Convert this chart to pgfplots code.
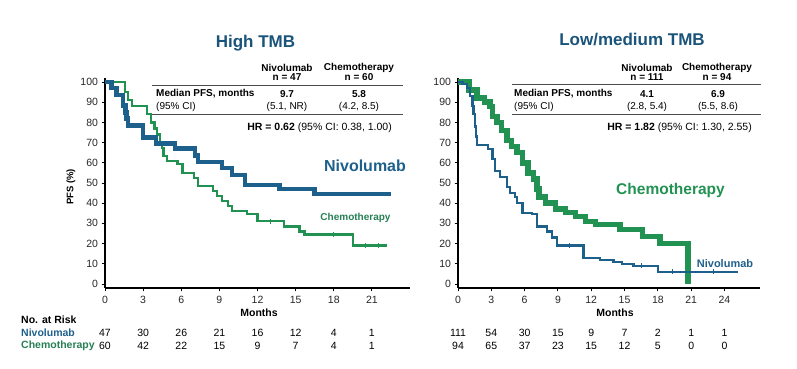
\documentclass[border=0pt]{standalone}
\usepackage{fontspec}
\setmainfont{Liberation Sans}
\usepackage{pgfplots}
\pgfplotsset{compat=1.18}
\definecolor{nivo}{RGB}{30,96,140}
\definecolor{chemo}{RGB}{34,146,82}
\definecolor{titleblue}{RGB}{26,84,122}
\definecolor{chemolab}{RGB}{38,128,84}
\newcommand{\fs}[1]{\fontsize{#1}{#1}\selectfont}
\pgfplotsset{km/.style={
  scale only axis, height=210pt, ymin=-2, ymax=102, xmin=0,
  axis x line*=bottom, axis y line*=left,
  axis line style={line width=1.5pt, black},
  ytick={0,10,...,100},
  tick align=outside, major tick length=3.5pt,
  tick style={line width=0.9pt, black},
  tick label style={font=\fs{10.5}, text=black!85},
  /pgf/number format/assume math mode=true,
  xticklabel style={yshift=-1pt},
  clip=false,
}}
\begin{document}
\begin{tikzpicture}[x=1pt,y=1pt]
\path[use as bounding box] (0,0) rectangle (797,369);
% ---------------- Left: High TMB ----------------
\begin{axis}[km, at={(105pt,81pt)}, anchor=south west, width=305pt,
  xmax=24, xtick={0,3,...,21}]
\addplot[const plot, chemo, line width=2.2pt] coordinates {
(0,100) (1.6,95) (1.8,91) (2.1,88) (3.3,84) (3.6,80) (3.9,77) (4.1,74)
(4.3,70) (4.5,67.5) (4.6,63.5) (4.9,61) (5.7,59.5) (6.1,55) (7.0,52.5)
(7.3,48.5) (8.5,46) (8.8,43.5) (9.2,41) (9.7,38.5) (10.0,36) (11.2,34.5)
(12.0,31) (14.1,28.5) (15.3,26) (15.7,24.5) (19.5,19) (22.2,19)};
\addplot[const plot, nivo, line width=4.5pt] coordinates {
(0,100) (0.5,97) (0.9,93.5) (1.4,88.5) (1.6,85) (1.7,82) (1.8,78.5)
(3.0,72.5) (4.0,69.5) (5.5,67) (7.1,63.5) (7.3,60.5) (9.2,57.5) (10.0,54)
(11.0,49) (13.75,47) (16.5,44.5) (22.5,44.5)};
\addplot[only marks, mark=|, mark size=2.5pt, chemo, line width=0.8pt] coordinates {
(13.0,31) (18.0,24.5) (20.5,19) (21.5,19)};
\node[font=\fs{10.5}] at (axis cs:0,-24.3) {47};
\node[font=\fs{10.5}] at (axis cs:3,-24.3) {30};
\node[font=\fs{10.5}] at (axis cs:6,-24.3) {26};
\node[font=\fs{10.5}] at (axis cs:9,-24.3) {21};
\node[font=\fs{10.5}] at (axis cs:12,-24.3) {16};
\node[font=\fs{10.5}] at (axis cs:15,-24.3) {12};
\node[font=\fs{10.5}] at (axis cs:18,-24.3) {4};
\node[font=\fs{10.5}] at (axis cs:21,-24.3) {1};
\node[font=\fs{10.5}] at (axis cs:0,-30.7) {60};
\node[font=\fs{10.5}] at (axis cs:3,-30.7) {42};
\node[font=\fs{10.5}] at (axis cs:6,-30.7) {22};
\node[font=\fs{10.5}] at (axis cs:9,-30.7) {15};
\node[font=\fs{10.5}] at (axis cs:12,-30.7) {9};
\node[font=\fs{10.5}] at (axis cs:15,-30.7) {7};
\node[font=\fs{10.5}] at (axis cs:18,-30.7) {4};
\node[font=\fs{10.5}] at (axis cs:21,-30.7) {1};
\end{axis}
% ---------------- Right: Low/medium TMB ----------------
\begin{axis}[km, at={(458pt,81pt)}, anchor=south west, width=302pt,
  xmax=27.2, xtick={0,3,...,24}]
\addplot[const plot, chemo, line width=5.5pt] coordinates {
(0,100) (1.0,96) (1.7,92) (2.4,90) (2.9,88) (3.1,83) (3.5,80) (3.9,76)
(4.4,71) (4.8,68) (5.3,65) (5.8,60) (6.3,55) (6.8,52) (7.1,47) (7.3,43)
(7.9,40) (8.8,37) (9.7,35.5) (10.6,33.5) (11.5,31) (12.4,29.5) (14.6,27)
(16.6,23.5) (18.2,20) (20.7,0)};
\addplot[const plot, nivo, line width=2.2pt] coordinates {
(0,100) (0.4,99) (0.8,97) (1.1,93) (1.3,88) (1.4,84) (1.5,78) (1.6,73) (1.7,69)
(2.7,67) (3.1,62) (3.3,56) (3.8,53) (4.4,48) (4.7,45) (5.1,43) (5.3,40)
(5.8,35) (6.7,34.5) (7.1,28.5) (8.0,26) (8.5,23) (8.9,19) (11.3,13)
(12.8,12) (14.0,11) (14.8,10) (15.8,9) (18.0,6) (25.2,6)};
\addplot[only marks, mark=|, mark size=2.5pt, nivo, line width=0.8pt] coordinates {
(10.0,19) (16.5,9) (19.3,6) (23.0,6)};
\node[font=\fs{10.5}] at (axis cs:0,-24.3) {111};
\node[font=\fs{10.5}] at (axis cs:3,-24.3) {54};
\node[font=\fs{10.5}] at (axis cs:6,-24.3) {30};
\node[font=\fs{10.5}] at (axis cs:9,-24.3) {15};
\node[font=\fs{10.5}] at (axis cs:12,-24.3) {9};
\node[font=\fs{10.5}] at (axis cs:15,-24.3) {7};
\node[font=\fs{10.5}] at (axis cs:18,-24.3) {2};
\node[font=\fs{10.5}] at (axis cs:21,-24.3) {1};
\node[font=\fs{10.5}] at (axis cs:24,-24.3) {1};
\node[font=\fs{10.5}] at (axis cs:0,-30.7) {94};
\node[font=\fs{10.5}] at (axis cs:3,-30.7) {65};
\node[font=\fs{10.5}] at (axis cs:6,-30.7) {37};
\node[font=\fs{10.5}] at (axis cs:9,-30.7) {23};
\node[font=\fs{10.5}] at (axis cs:12,-30.7) {15};
\node[font=\fs{10.5}] at (axis cs:15,-30.7) {12};
\node[font=\fs{10.5}] at (axis cs:18,-30.7) {5};
\node[font=\fs{10.5}] at (axis cs:21,-30.7) {0};
\node[font=\fs{10.5}] at (axis cs:24,-30.7) {0};
\end{axis}
% ---------------- Titles ----------------
\node[font=\fs{17}\bfseries, text=titleblue] at (255.5,326) {High TMB};
\node[font=\fs{17}\bfseries, text=titleblue] at (632,329) {Low/medium TMB};
% ---------------- Left table ----------------
\node[font=\fs{10}\bfseries] at (287,301) {Nivolumab};
\node[font=\fs{10}\bfseries] at (287,292) {n = 47};
\node[font=\fs{10}\bfseries] at (359,301) {Chemotherapy};
\node[font=\fs{10}\bfseries] at (359,292) {n = 60};
\draw[line width=0.9pt, black!70] (152,284) -- (403,284);
\draw[line width=0.9pt, black!70] (152,255) -- (403,255);
\node[font=\fs{10}\bfseries, anchor=west, inner sep=0] at (156,275) {Median PFS, months};
\node[font=\fs{10}, anchor=west, inner sep=0] at (156,262) {(95\% CI)};
\node[font=\fs{10}\bfseries] at (287,275) {9.7};
\node[font=\fs{10}] at (287,262) {(5.1, NR)};
\node[font=\fs{10}\bfseries] at (359,275) {5.8};
\node[font=\fs{10}] at (359,262) {(4.2, 8.5)};
\node[font=\fs{10.5}, anchor=east, inner sep=0] at (392,241) {\textbf{HR = 0.62} (95\% CI: 0.38, 1.00)};
% ---------------- Right table ----------------
\node[font=\fs{10}\bfseries] at (647,301) {Nivolumab};
\node[font=\fs{10}\bfseries] at (647,292) {n = 111};
\node[font=\fs{10}\bfseries] at (717,301) {Chemotherapy};
\node[font=\fs{10}\bfseries] at (717,292) {n = 94};
\draw[line width=0.9pt, black!70] (512,285) -- (761,285);
\draw[line width=0.9pt, black!70] (512,255) -- (761,255);
\node[font=\fs{10}\bfseries, anchor=west, inner sep=0] at (514,275) {Median PFS, months};
\node[font=\fs{10}, anchor=west, inner sep=0] at (514,262) {(95\% CI)};
\node[font=\fs{10}\bfseries] at (647,275) {4.1};
\node[font=\fs{10}] at (647,262) {(2.8, 5.4)};
\node[font=\fs{10}\bfseries] at (718,275) {6.9};
\node[font=\fs{10}] at (718,262) {(5.5, 8.6)};
\node[font=\fs{10.5}, anchor=east, inner sep=0] at (752,241) {\textbf{HR = 1.82} (95\% CI: 1.30, 2.55)};
% ---------------- Curve labels ----------------
\node[font=\fs{16}\bfseries, text=nivo] at (365,203) {Nivolumab};
\node[font=\fs{10}\bfseries, text=chemolab] at (355.5,151) {Chemotherapy};
\node[font=\fs{15.5}\bfseries, text=chemo] at (670.5,179) {Chemotherapy};
\node[font=\fs{11}\bfseries, text=nivo] at (725,105) {Nivolumab};
% ---------------- Axis labels ----------------
\node[font=\fs{9.5}\bfseries, rotate=90] at (71,182) {PFS (\%)};
\node[font=\fs{10.5}\bfseries] at (259,56) {Months};
\node[font=\fs{10.5}\bfseries] at (615,56) {Months};
% ---------------- Risk table ----------------
\node[font=\fs{10.5}\bfseries, anchor=west, inner sep=0] at (21,49) {No. at Risk};
\node[font=\fs{10.5}\bfseries, anchor=west, inner sep=0, text=nivo] at (21,36) {Nivolumab};
\node[font=\fs{10.5}\bfseries, anchor=west, inner sep=0, text=chemolab] at (21,23) {Chemotherapy};
\end{tikzpicture}
\end{document}
